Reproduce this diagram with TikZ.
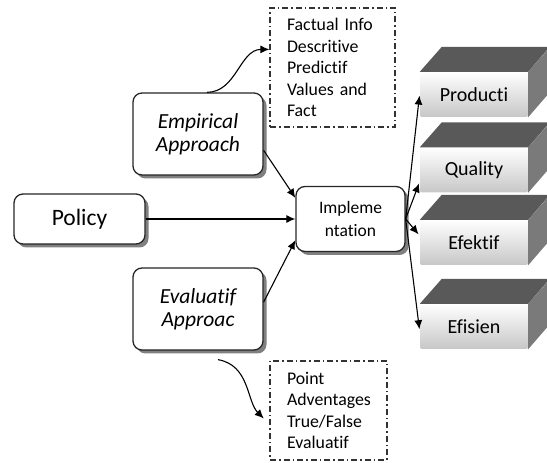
\documentclass[tikz,border=0pt]{standalone}
\usepackage{fontspec}
\setmainfont[Ligatures=NoCommon]{Carlito}
\usetikzlibrary{arrows.meta,shadows,calc}

\tikzset{
  box/.style={draw=black!85, line width=1.3pt, rounded corners=9pt, fill=white,
    drop shadow={shadow xshift=3.5pt, shadow yshift=-3.5pt, fill=black!50, opacity=1},
    align=center, inner sep=0pt},
  note/.style={draw=black!80, line width=1.2pt, dash pattern=on 6pt off 3pt on 1.5pt off 3pt,
    align=left, inner xsep=17pt, inner ysep=0pt,
    font=\fontsize{17.8}{21.5}\selectfont},
  front/.style={minimum width=108pt, minimum height=45pt, rounded corners=2pt,
    top color=white, bottom color=black!22, inner sep=0pt,
    font=\fontsize{20}{24}\selectfont},
  arr/.style={-{Latex[length=9pt,width=8pt]}, line width=1.1pt},
}

\begin{document}
\begin{tikzpicture}[x=1pt,y=1pt]
\clip (0,0) rectangle (547,463);

\node[box, minimum width=131pt, minimum height=50pt, font=\fontsize{23.5}{26}\selectfont] (policy) at (79.5,244) {Policy};
\node[box, minimum width=130pt, minimum height=82pt, font=\fontsize{21.5}{23}\selectfont\itshape] (empirical) at (198,329) {Empirical\\Approach};
\node[box, minimum width=130pt, minimum height=82pt, font=\fontsize{21.5}{23}\selectfont\itshape] (evaluatif) at (198,154) {Evaluatif\\Approac};
\node[box, minimum width=109pt, minimum height=65pt, font=\fontsize{17.5}{23}\selectfont] (impl) at (350.5,244) {Impleme\\ntation};

\node[note, minimum width=125pt, minimum height=119pt, text width=91pt] (factual) at (332.5,395.5) {\mbox{Factual Info}\\Descritive\\Predictif\\\mbox{Values and}\\Fact};
\node[note, minimum width=117pt, minimum height=99pt, text width=83pt] (point) at (328.5,52.5) {Point\\\mbox{Adventages}\\\mbox{True/False}\\Evaluatif};

\foreach \n/\t/\y in {producti/Producti/368.5, quality/Quality/293, efektif/Efektif/220.5, efisien/Efisien/136.5}{
  \node[front] (\n) at (474,\y) {\t};
  \fill[black!65] (\n.north west) -- ++(22,25) -- ++(108,0) -- (\n.north east) -- cycle;
  \fill[black!52] (\n.north east) -- ++(22,25) -- ++(0,-45) -- (\n.south east) -- cycle;
}

\draw[arr] (policy.east) -- (impl.west);
\draw[arr] (empirical.-14) -- (impl.159);
\draw[arr] (evaluatif.6) -- (impl.201);
\draw[arr] (empirical.78) to[out=0,in=180] (factual.164);
\draw[arr, shorten >=8pt] ($(evaluatif.south)+(20,-9)$) to[out=-10,in=135] (point.193);

\draw[arr, shorten >=3pt] (impl.east) -- (producti.178);
\draw[arr, shorten >=2pt] (impl.east) -- (quality.192);
\draw[arr, shorten >=2pt] (impl.east) -- (efektif.173);
\draw[arr, shorten >=3pt] (impl.east) -- (efisien.186);
\end{tikzpicture}
\end{document}
